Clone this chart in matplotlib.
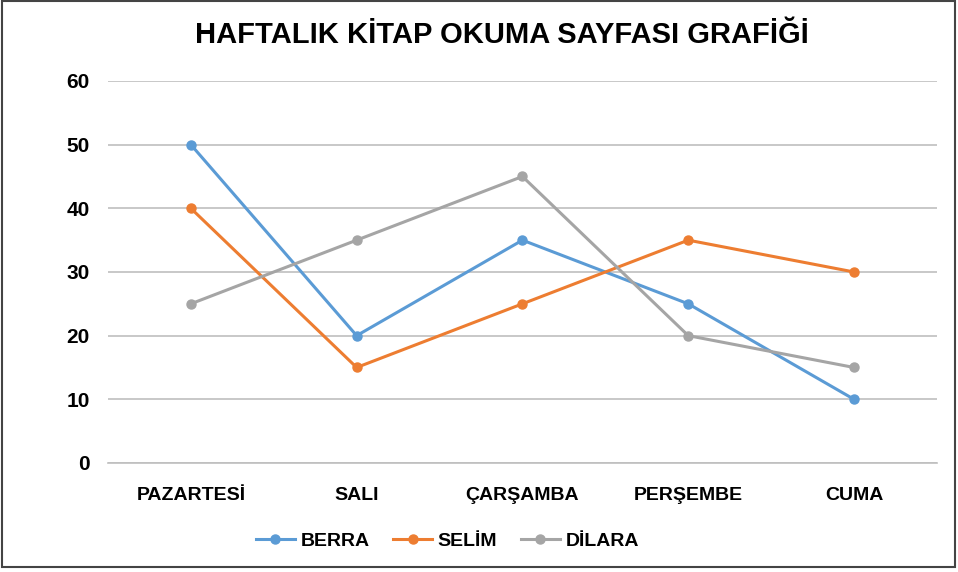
import matplotlib.pyplot as plt
from matplotlib.patches import Rectangle
import numpy as np

# Veriler
gunler = ['PAZARTESİ', 'SALI', 'ÇARŞAMBA', 'PERŞEMBE', 'CUMA']
berra = [50, 20, 35, 25, 10]
selim = [40, 15, 25, 35, 30]
dilara = [25, 35, 45, 20, 15]
isimler = ['BERRA', 'SELİM', 'DİLARA']
renkler = ['#5B9BD5', '#ED7D31', '#A5A5A5']

plt.rcParams['font.family'] = ['Liberation Sans', 'DejaVu Sans']

fig = plt.figure(figsize=(9.58, 5.72), dpi=100)
ax = fig.add_axes([0.1127, 0.1906, 0.8653, 0.6678])

x = np.arange(len(gunler))
for seri, isim, renk in zip([berra, selim, dilara], isimler, renkler):
    ax.plot(x, seri, color=renk, lw=2.2, marker='o', ms=6.5, label=isim, zorder=3)

ax.set_xlim(-0.5, len(gunler) - 0.5)
ax.set_ylim(0, 60)
ax.set_yticks(range(0, 61, 10))
ax.set_xticks(x)
ax.set_xticklabels(gunler, fontsize=14, fontweight='bold')
for t in ax.get_yticklabels():
    t.set_fontsize(15)
    t.set_fontweight('bold')
ax.tick_params(axis='both', length=0)
ax.tick_params(axis='x', pad=17)
ax.tick_params(axis='y', pad=13)
ax.grid(axis='y', color='#BFBFBF', lw=1.2)
ax.set_axisbelow(True)
for s in ['top', 'right', 'left']:
    ax.spines[s].set_visible(False)
ax.spines['bottom'].set_color('#BFBFBF')
ax.spines['bottom'].set_linewidth(1.2)

fig.text(0.524, 0.938, 'HAFTALIK KİTAP OKUMA SAYFASI GRAFİĞİ', ha='center', va='center',
         fontsize=21, fontweight='bold')

leg = fig.legend(loc='center', bbox_to_anchor=(0.467, 0.054), ncol=3, frameon=False,
                 prop={'size': 14, 'weight': 'bold'}, handlelength=2.0, columnspacing=1.2,
                 handletextpad=0.3)

fig.add_artist(Rectangle((0.002, 0.009), 0.995, 0.989, transform=fig.transFigure,
                         fill=False, edgecolor='#444444', lw=1.5))

fig.savefig('out.png', dpi=100)
